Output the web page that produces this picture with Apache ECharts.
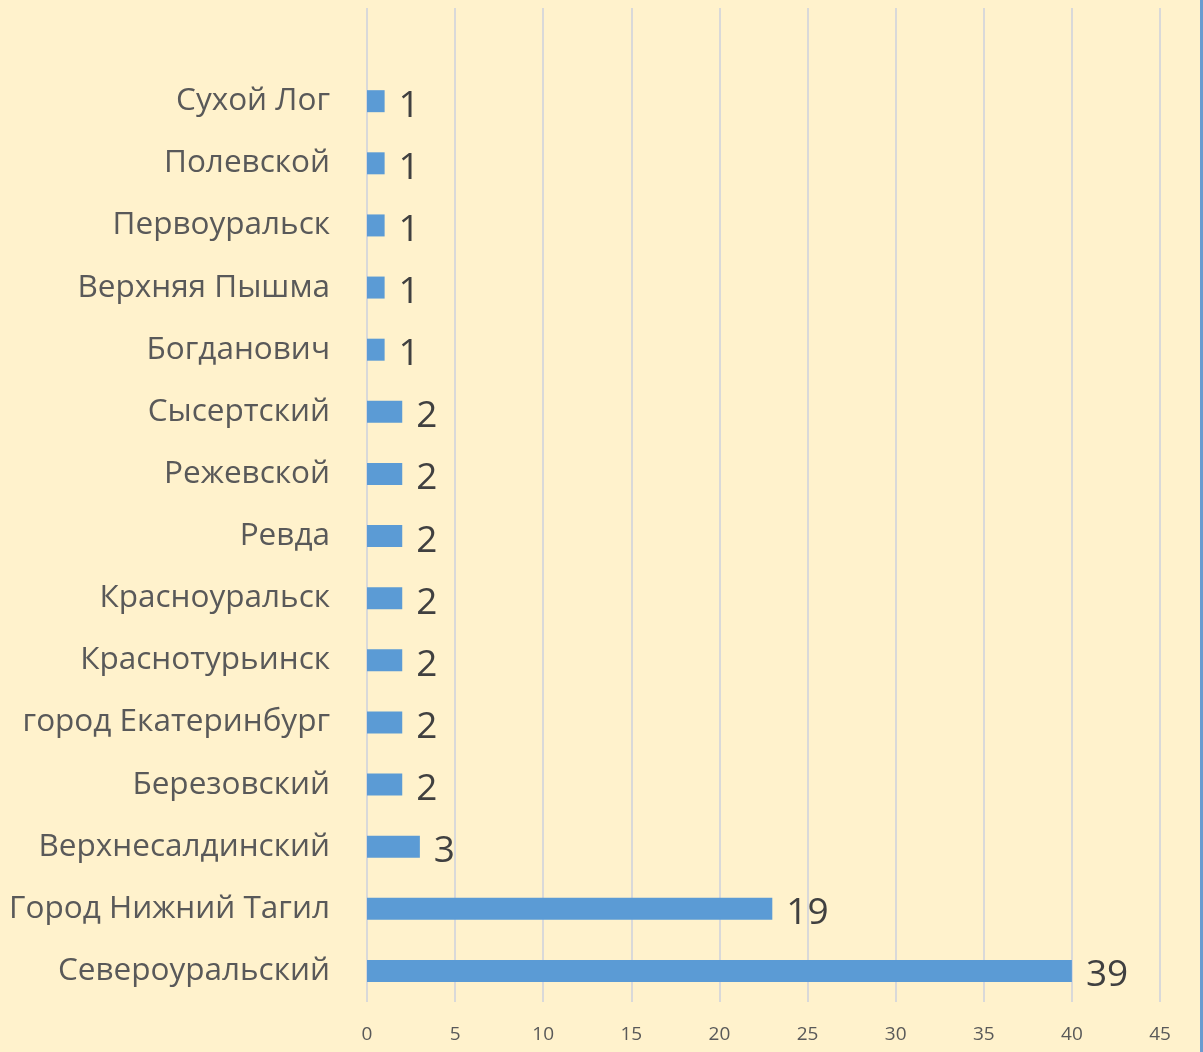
<!DOCTYPE html>
<html>
<head>
<meta charset="utf-8">
<script src="https://cdn.jsdelivr.net/npm/echarts@6/dist/echarts.min.js"></script>
<style>
  html, body { margin: 0; padding: 0; background: #fff2cc; }
  #chart {
    width: 1200px;
    height: 1052px;
    border-right: 3px solid #6a9bd0;
  }
</style>
</head>
<body>
<div id="chart"></div>
<script>
// categories from bottom to top (the top slot is empty in the original)
const categories = [
  'Североуральский', 'Город Нижний Тагил', 'Верхнесалдинский', 'Березовский',
  'город Екатеринбург', 'Краснотурьинск', 'Красноуральск', 'Ревда',
  'Режевской', 'Сысертский', 'Богданович', 'Верхняя Пышма',
  'Первоуральск', 'Полевской', 'Сухой Лог', ''
]
// bar lengths as drawn
const barValues = [40, 23, 3, 2, 2, 2, 2, 2, 2, 2, 1, 1, 1, 1, 1, null]
// data labels as printed next to the bars
const labelTexts = ['39', '19', '3', '2', '2', '2', '2', '2', '2', '2', '1', '1', '1', '1', '1', '']
const xTicks = [0, 5, 10, 15, 20, 25, 30, 35, 40, 45]

const chart = echarts.init(document.getElementById('chart'))

const option = {
  animation: false,
  backgroundColor: '#fff2cc',
  textStyle: { fontFamily: 'Open Sans' },
  grid: { left: 367, right: 40, top: 8, bottom: 50 },
  xAxis: {
    type: 'value',
    min: xTicks[0],
    max: xTicks[xTicks.length - 1],
    interval: 5,
    axisLine: { show: false },
    axisTick: { show: false },
    axisLabel: { color: '#595959', fontSize: 19, margin: 23 },
    splitLine: { lineStyle: { color: '#d9d9d9', width: 2 } }
  },
  yAxis: {
    type: 'category',
    data: categories,
    axisLine: { show: false },
    axisTick: { show: false },
    axisLabel: { color: '#595959', fontSize: 31.5, margin: 37, padding: [3, 0, 0, 0] },
    splitLine: { show: false }
  },
  series: [
    {
      type: 'bar',
      data: barValues,
      barWidth: 22,
      itemStyle: { color: '#5b9bd5' },
      label: {
        show: true,
        position: 'right',
        distance: 14,
        offset: [0, 5],
        fontSize: 37,
        color: '#404040',
        formatter: (p) => labelTexts[p.dataIndex]
      }
    }
  ]
}

chart.setOption(option)
</script>
</body>
</html>
